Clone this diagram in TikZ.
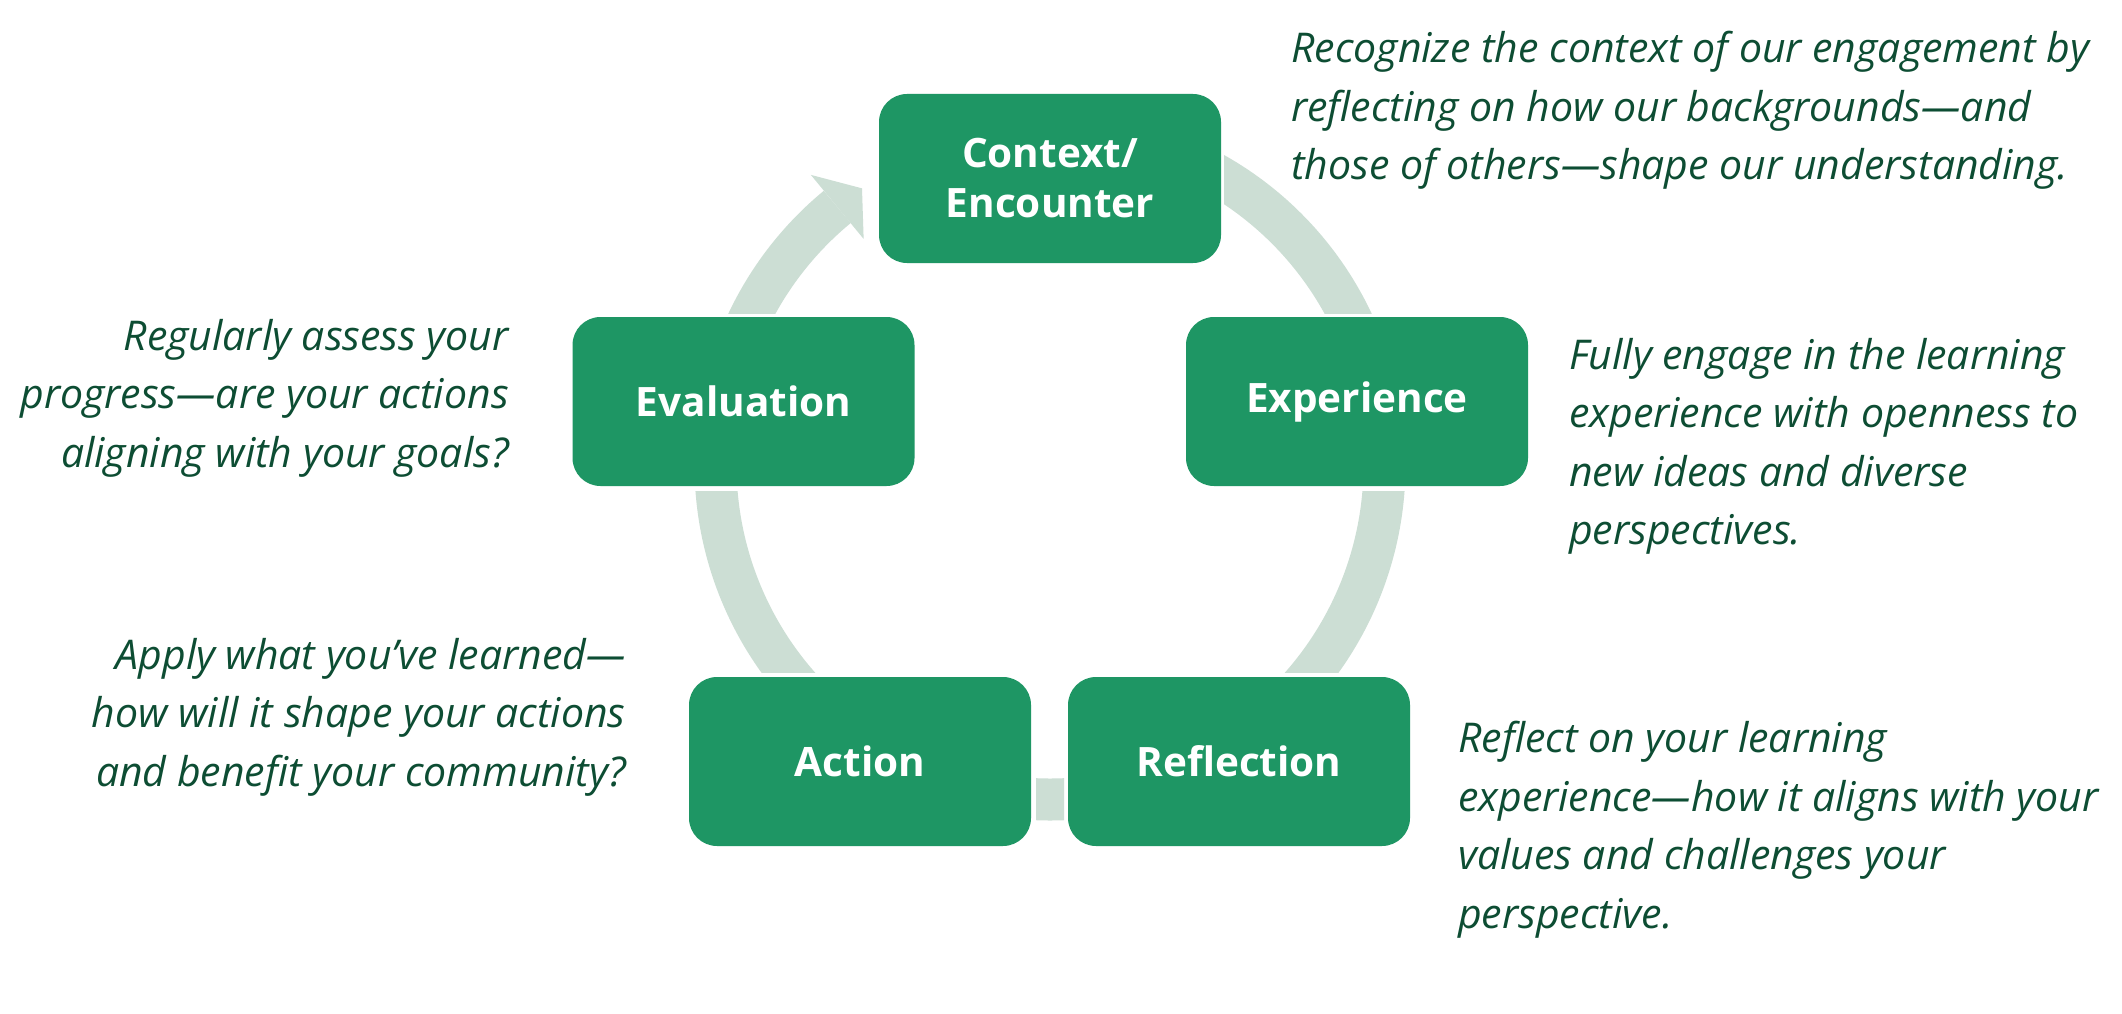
\documentclass[tikz,border=0pt]{standalone}
\usepackage{fontspec}
\setmainfont{Open Sans}
\definecolor{boxgreen}{HTML}{1E9664}
\definecolor{bandc}{HTML}{CCDED4}
\definecolor{txtc}{HTML}{0D4D33}
\tikzset{
  stage/.style={rounded corners=28pt, fill=boxgreen, minimum width=342pt, minimum height=169pt,
    inner sep=0pt, text=white, align=center, font=\bfseries\fontsize{40.5}{50}\selectfont},
  band/.style={draw=bandc, line width=42pt},
  bandhead/.style={fill=bandc, draw=none},
  descl/.style={text=txtc, inner sep=0pt, font=\itshape\fontsize{41}{49}\selectfont},
  descw/.style={descl, anchor=base west},
  desce/.style={descl, anchor=base east}
}
\begin{document}
\begin{tikzpicture}[x=1pt, y=-1pt]
\path[use as bounding box, fill=white] (0,0) rectangle (2122,1014);
\coordinate (cc) at (1050,465);
% cycle arcs
\begin{scope}
  \clip (1224,0) rectangle (2122,313);
  \draw[band] ([shift={(-70:334.5)}]cc) arc[start angle=-70, end angle=-20, radius=334.5];
\end{scope}
\begin{scope}
  \clip (1100,491) rectangle (2122,672);
  \draw[band] ([shift={(0:334.5)}]cc) arc[start angle=0, end angle=45, radius=334.5];
\end{scope}
\begin{scope}
  \clip (1036,700) rectangle (1064,900);
  \draw[band] ([shift={(80:334.5)}]cc) arc[start angle=80, end angle=100, radius=334.5];
\end{scope}
\begin{scope}
  \clip (0,491) rectangle (1000,672);
  \draw[band] ([shift={(135:334.5)}]cc) arc[start angle=135, end angle=180, radius=334.5];
\end{scope}
\begin{scope}
  \clip (0,0) rectangle (1000,313);
  \draw[band] ([shift={(200:334.5)}]cc) arc[start angle=200, end angle=230.5, radius=334.5];
  \fill[bandhead] ([shift={(230.5:376)}]cc) -- ([shift={(235.8:334.5)}]cc) -- ([shift={(230.5:293)}]cc) -- cycle;
\end{scope}
% stages
\node[stage] (ctx) at (1050,178.5) {Context/\\Encounter};
\node[stage] (exp) at (1357,401.5) {Experience};
\node[stage] (ref) at (1239,761.5) {Reflection};
\node[stage] (act) at (860,761.5) {Action};
\node[stage] (eva) at (743.5,401.5) {Evaluation};
% descriptions
\node[descw] (d1a) at (1291,62.7) {Recognize the context of our engagement by};
\node[descw] (d1b) at (1291,121.2) {reflecting on how our backgrounds—and};
\node[descw] (d1c) at (1291,179.7) {those of others—shape our understanding.};
\node[descw] (d2a) at (1569,369) {Fully engage in the learning};
\node[descw] (d2b) at (1569,427.5) {experience with openness to};
\node[descw] (d2c) at (1569,486) {new ideas and diverse};
\node[descw] (d2d) at (1569,544.5) {perspectives.};
\node[descw] (d3a) at (1458,752.5) {Reflect on your learning};
\node[descw] (d3b) at (1458,811) {experience—how it aligns with your};
\node[descw] (d3c) at (1458,869.5) {values and challenges your};
\node[descw] (d3d) at (1458,928) {perspective.};
\node[desce] (d4a) at (509,350) {Regularly assess your};
\node[desce] (d4b) at (509,408.5) {progress—are your actions};
\node[desce] (d4c) at (509,467) {aligning with your goals?};
\node[desce] (d5a) at (626,669) {Apply what you've learned—};
\node[desce] (d5b) at (626,727.5) {how will it shape your actions};
\node[desce] (d5c) at (626,786) {and benefit your community?};
\end{tikzpicture}
\end{document}
